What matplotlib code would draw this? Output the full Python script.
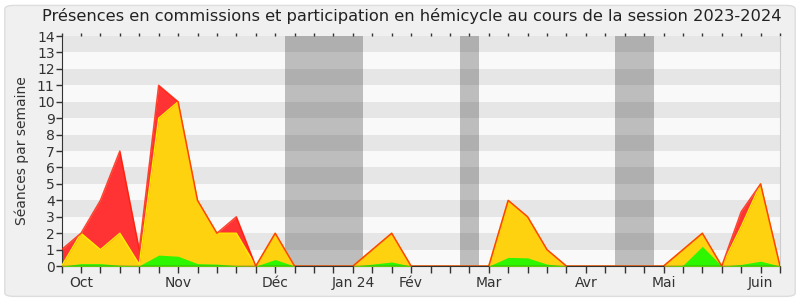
import matplotlib
matplotlib.use('Agg')
import matplotlib.pyplot as plt
from matplotlib.patches import FancyBboxPatch

# weekly values, session 2023-2024 (38 weeks)
weeks = list(range(38))
commission = [1, 2, 4, 7, 1, 11, 10, 4, 2, 3, 0, 2, 0, 0, 0, 0, 1, 2, 0, 0,
              0, 0, 0, 4, 3, 1, 0, 0, 0, 0, 0, 0, 1, 2, 0, 3.3, 5, 0]
hemicycle = [0, 2, 1, 2, 0.1, 9, 10, 4, 2, 2, 0, 2, 0, 0, 0, 0, 1, 2, 0, 0,
             0, 0, 0, 4, 3, 1, 0, 0, 0, 0, 0, 0, 1, 2, 0, 2.4, 5, 0]
interventions = [0, 0.15, 0.15, 0.05, 0.02, 0.67, 0.6, 0.15, 0.12, 0.03, 0, 0.4,
                 0, 0, 0, 0, 0.12, 0.25, 0, 0, 0, 0, 0, 0.53, 0.5, 0.12, 0, 0,
                 0, 0, 0, 0, 0.05, 1.2, 0, 0.1, 0.3, 0]

month_labels = ['Oct', 'Nov', 'Déc', 'Jan 24', 'Fév', 'Mar', 'Avr', 'Mai', 'Juin']
month_weeks = [1, 6, 11, 15, 18, 22, 27, 31, 36]

# parliamentary breaks (in week units)
breaks = [(11.5, 15.5), (20.5, 21.5), (28.5, 30.5)]


def main():
    fig = plt.figure(figsize=(8, 3), dpi=100, facecolor='white')
    fig.patches.append(FancyBboxPatch((0.006, 0.012), 0.988, 0.97,
                                      boxstyle='round,pad=0,rounding_size=0.012',
                                      transform=fig.transFigure, facecolor='#F0F0F0',
                                      edgecolor='#DDDDDD', linewidth=1, zorder=-5))
    ax = fig.add_axes([0.077, 0.113, 0.898, 0.767])
    ax.set_facecolor('#F9F9F9')

    # horizontal stripes
    for y in range(1, 14, 2):
        ax.axhspan(y, y + 1, color='#E6E6E6', lw=0, zorder=0)
    for x0, x1 in breaks:
        ax.axvspan(x0, x1, color='black', alpha=0.24, lw=0, zorder=1)

    ax.fill_between(weeks, commission, color='#FF3333', lw=0, zorder=2)
    ax.fill_between(weeks, hemicycle, color='#FFD20F', lw=0, zorder=3)
    ax.fill_between(weeks, interventions, color='#2EF500', lw=0, zorder=4)
    ax.plot(weeks, hemicycle, color='#FFEE00', lw=1, zorder=5)
    ax.plot(weeks, commission, color='#FF1A00', lw=1.1, alpha=0.8, zorder=6)
    ax.axhline(0, color='#444444', lw=1, zorder=7)

    ax.set_xlim(0, 37)
    ax.set_ylim(0, 14)
    ax.set_yticks(range(15))
    ax.set_xticks(weeks)
    labels = [''] * len(weeks)
    for w, lab in zip(month_weeks, month_labels):
        labels[w] = lab
    ax.set_xticklabels(labels)
    ax.tick_params(axis='both', labelsize=10, colors='#333333', labelcolor='#333333')
    ax.tick_params(axis='x', length=5, width=1, pad=2, top=True)
    ax.tick_params(axis='y', length=4, width=1, pad=1)
    for t in ax.xaxis.get_major_ticks():
        t.tick2line.set_markersize(2)

    ax.spines['top'].set_visible(False)
    ax.spines['right'].set_color('#CCCCCC')
    ax.spines['left'].set_color('#333333')
    ax.spines['bottom'].set_color('#333333')

    ax.set_ylabel('Séances par semaine', fontsize=10, color='#333333', labelpad=6)
    fig.text(0.515, 0.945, 'Présences en commissions et participation en hémicycle '
             'au cours de la session 2023-2024', ha='center', va='center',
             fontsize=11.7, color='#222222')
    fig.savefig('out.png', dpi=100)


if __name__ == "__main__":
    main()
